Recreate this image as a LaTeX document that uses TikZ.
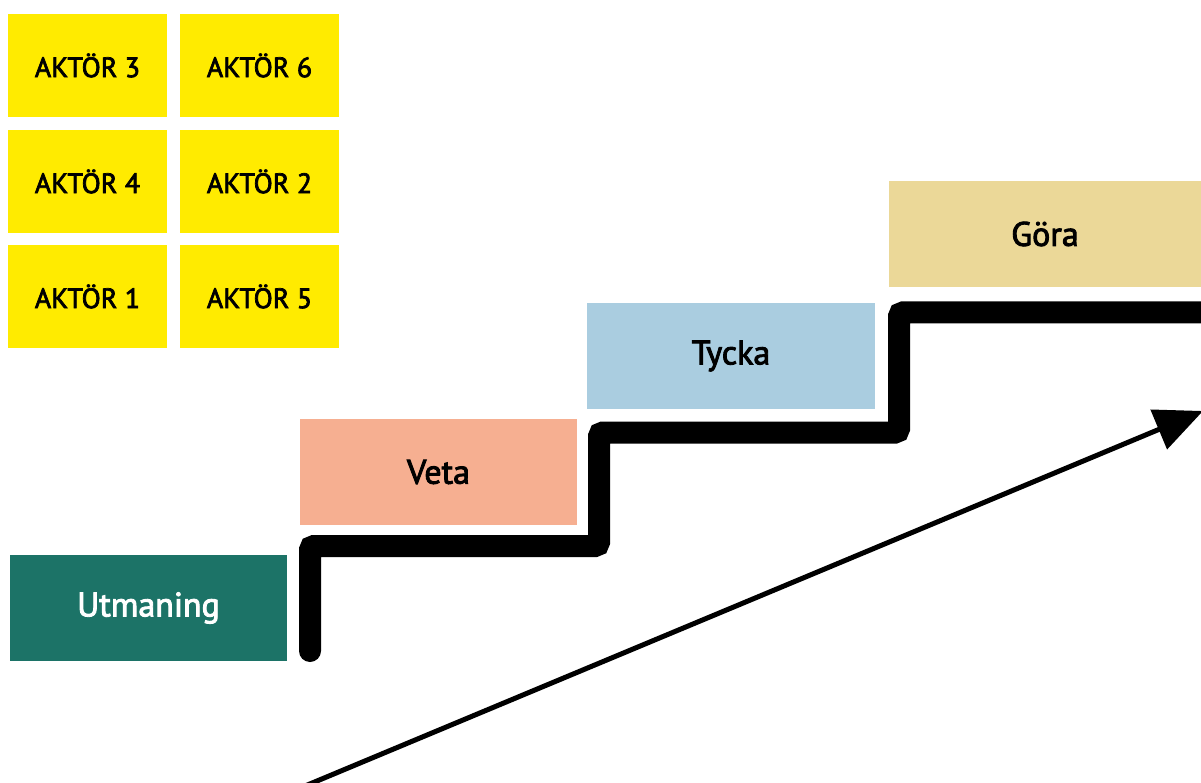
\documentclass[tikz,border=0pt]{standalone}
\usepackage{fontspec}
\setmainfont{PT Sans}
\newfontfamily\medfont{PT Sans}[FakeBold=2.6]
\usetikzlibrary{arrows.meta}
\definecolor{aktyellow}{HTML}{FFEB00}
\definecolor{utteal}{HTML}{1C7367}
\definecolor{vetasalmon}{HTML}{F6AF91}
\definecolor{tyckablue}{HTML}{AACDE0}
\definecolor{goratan}{HTML}{EBD898}
\tikzset{
  aktor/.style={fill=aktyellow, draw=none, minimum width=159pt, minimum height=103pt, inner sep=0pt, font=\medfont\fontsize{28}{32}\selectfont, text=black},
  stepbox/.style={draw=none, minimum height=106pt, inner sep=0pt, font=\medfont\fontsize{34}{38}\selectfont, text=black},
  stair/.style={line width=22pt, line cap=round, line join=miter, rounded corners=4pt},
  rise/.style={line width=5pt, -{Triangle[length=48pt,width=42pt]}}
}
\begin{document}
\begin{tikzpicture}[x=1pt,y=-1pt]
\useasboundingbox (0,0) rectangle (1201,783);
% actors
\node[aktor] (a3) at (87.5,65.5) {AKTÖR 3};
\node[aktor] (a6) at (259.5,65.5) {AKTÖR 6};
\node[aktor] (a4) at (87.5,181.5) {AKTÖR 4};
\node[aktor] (a2) at (259.5,181.5) {AKTÖR 2};
\node[aktor] (a1) at (87.5,296.5) {AKTÖR 1};
\node[aktor] (a5) at (259.5,296.5) {AKTÖR 5};
% steps
\node[stepbox, fill=utteal, text=white, minimum width=277pt] (utm) at (148.5,608) {Utmaning};
\node[stepbox, fill=vetasalmon, minimum width=277pt] (veta) at (438.5,472) {Veta};
\node[stepbox, fill=tyckablue, minimum width=288pt] (tycka) at (731,356) {Tycka};
\node[stepbox, fill=goratan, minimum width=312pt] (gora) at (1045,234) {Göra};
% staircase
\coordinate (s0) at (310,651);
\coordinate (s1) at (310,546);
\coordinate (s2) at (599,546);
\coordinate (s3) at (599,432.5);
\coordinate (s4) at (899,432.5);
\coordinate (s5) at (899,312.5);
\coordinate (s6) at (1215,312.5);
\draw[stair] (s0) -- (s1) -- (s2) -- (s3) -- (s4) -- (s5) -- (s6);
% arrow
\coordinate (r0) at (305,786);
\coordinate (r1) at (1203,411);
\draw[rise] (r0) -- (r1);
\end{tikzpicture}
\end{document}
